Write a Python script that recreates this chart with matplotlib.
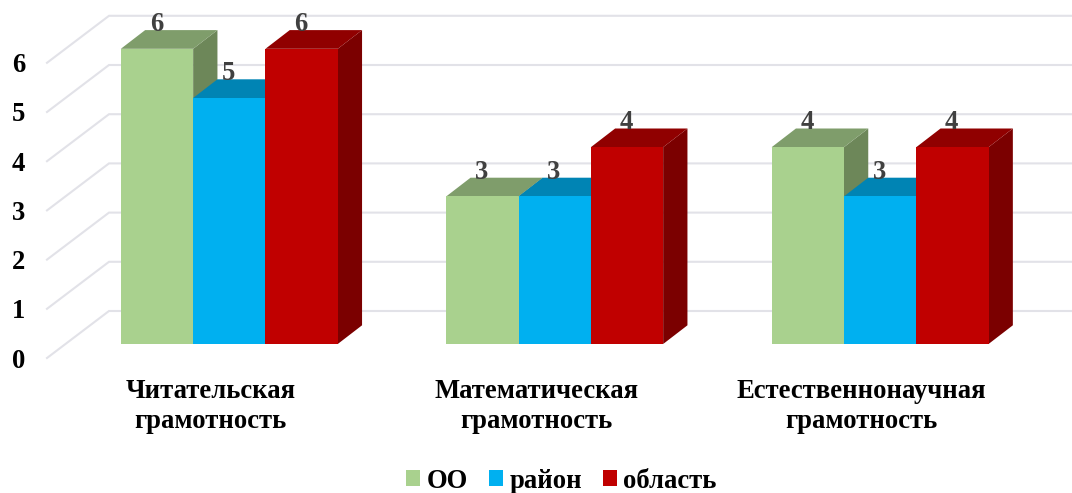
import matplotlib
matplotlib.use("Agg")
import matplotlib.pyplot as plt
from matplotlib.patches import Patch, Polygon
from matplotlib.transforms import ScaledTranslation

categories = ["Читательская\nграмотность", "Математическая\nграмотность", "Естественнонаучная\nграмотность"]
series_names = ["ОО", "район", "область"]
oo = [6, 3, 4]
rayon = [5, 3, 3]
oblast = [6, 4, 4]
y_ticks = [0, 1, 2, 3, 4, 5, 6]

front_colors = ["#A9D18E", "#00B0F0", "#C00000"]
top_colors = ["#7F9D6B", "#0084B4", "#900000"]
side_colors = ["#6D8759", "#00709A", "#7B0000"]
label_color = "#404040"
grid_color = "#E2E2E8"
FONT = "Liberation Serif"
FS = 19.2

W, H, DPI = 1072, 493, 100
PX_X = 325.4   # pixels per category
PX_Y = 49.2    # pixels per value unit
fig = plt.figure(figsize=(W / DPI, H / DPI), dpi=DPI, facecolor="white")
ax = fig.add_axes([47 / W, (H - 358) / H, (W - 47) / W, 358 / H])
ax.set_facecolor("none")
ax.set_xlim((47 - 229.3) / PX_X, (W - 229.3) / PX_X)
ax.set_ylim(-14 / PX_Y, 344 / PX_Y)

bar_w = 72.3 / PX_X
dx = 24.3 / PX_X
dy = 18.7 / PX_Y

# Back wall gridlines with their diagonal floor/side part
xmin, xmax = ax.get_xlim()
elbow = xmin + 62 / PX_X
for v in y_ticks:
    ax.plot([xmin, elbow, xmax], [v - 14 / PX_Y, v + 33 / PX_Y, v + 33 / PX_Y],
            color=grid_color, lw=1.5, zorder=1, clip_on=False, solid_joinstyle="miter")

for s, vals in enumerate([oo, rayon, oblast]):
    for i, v in enumerate(vals):
        x0 = i + (s - 1.5) * bar_w
        x1 = x0 + bar_w
        z = 2 + s + i * 3
        ax.add_patch(Polygon([(x1, 0), (x1 + dx, dy), (x1 + dx, v + dy), (x1, v)],
                             closed=True, fc=side_colors[s], ec="none", zorder=z))
        ax.add_patch(Polygon([(x0, v), (x0 + dx, v + dy), (x1 + dx, v + dy), (x1, v)],
                             closed=True, fc=top_colors[s], ec="none", zorder=z))
        ax.bar(x0, v, width=bar_w, align="edge", color=front_colors[s], zorder=z + 0.5)
        ax.annotate(str(v), (x0 + bar_w / 2, v), xytext=(-0.5, 17.5), textcoords="offset points",
                    ha="center", va="center", color=label_color, fontsize=FS,
                    fontfamily=FONT, fontweight="bold", zorder=50, annotation_clip=False)

for sp in ax.spines.values():
    sp.set_visible(False)

ax.set_yticks(y_ticks)
ax.set_yticklabels([str(v) for v in y_ticks], fontfamily=FONT, fontweight="bold",
                   fontsize=FS, color="black")
ax.tick_params(axis="y", length=0, pad=15.5)
for lab in ax.get_yticklabels():
    lab.set_transform(lab.get_transform() + ScaledTranslation(0, -14 / DPI, fig.dpi_scale_trans))

ax.set_xticks(range(len(categories)))
ax.set_xticklabels(categories, fontfamily=FONT, fontweight="bold", fontsize=FS,
                   color="black", linespacing=1.27)
ax.tick_params(axis="x", length=0, pad=15)
for lab in ax.get_xticklabels():
    lab.set_transform(lab.get_transform() + ScaledTranslation(-18.5 / DPI, 0, fig.dpi_scale_trans))

handles = [Patch(fc=c, ec="none", label=n) for c, n in zip(front_colors, series_names)]
fig.legend(handles=handles, ncol=3, loc="center", bbox_to_anchor=(561.5 / W, (H - 481) / H),
           prop={"family": FONT, "weight": "bold", "size": FS}, frameon=False,
           handlelength=0.53, handleheight=0.53, handletextpad=0.23, columnspacing=0.8,
           borderpad=0, borderaxespad=0)

fig.savefig("out.png", dpi=DPI)
